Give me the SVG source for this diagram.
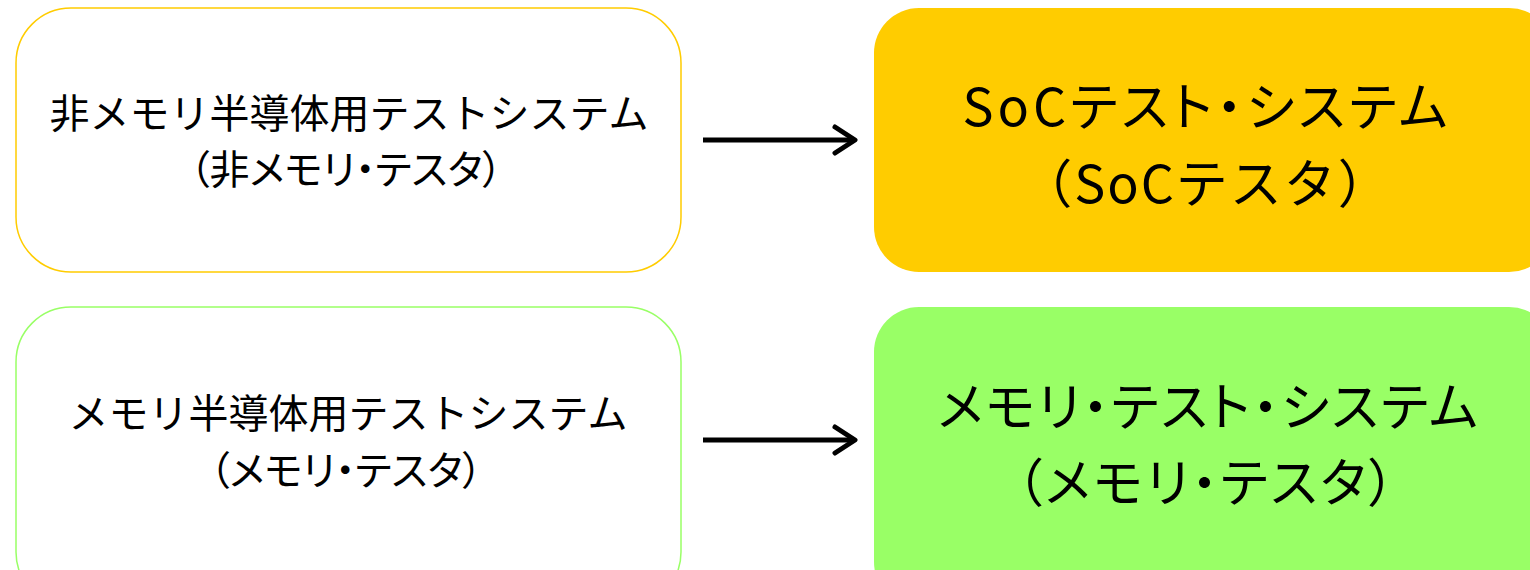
<svg xmlns="http://www.w3.org/2000/svg" width="1530" height="570" viewBox="0 0 1530 570">
<defs>
<style>
.t{font-family:"Noto Sans CJK JP","Noto Sans",sans-serif;fill:#000;text-anchor:middle}
.s{font-size:40px}
.l{font-size:52px}
.p{font-feature-settings:"palt" 1}
.conn{stroke:#000;stroke-width:5;fill:none}
.head{stroke:#000;stroke-width:5;fill:none;stroke-linecap:round;stroke-linejoin:round}
</style>
</defs>
<rect width="1530" height="570" fill="#fff"/>
<g id="node-nonmem">
<rect x="16" y="8" width="665" height="264" rx="55" ry="55" fill="#fff" stroke="#FFCC00" stroke-width="1.5"/>
<text class="t s" x="349" y="128">非メモリ半導体用テストシステム</text>
<text class="t s p" x="346" y="184">（非メモリ・テスタ）</text>
</g>
<g id="node-soc">
<rect x="874" y="8" width="680" height="264" rx="45" ry="45" fill="#FFCC00"/>
<text class="t l p" x="1207" y="126" letter-spacing="4">SoCテスト・システム</text>
<text class="t l" x="1206" y="203" letter-spacing="2">（SoCテスタ）</text>
</g>
<g id="node-mem">
<rect x="16" y="307" width="665" height="300" rx="55" ry="55" fill="#fff" stroke="#99FF66" stroke-width="1.5"/>
<text class="t s" x="348" y="428">メモリ半導体用テストシステム</text>
<text class="t s p" x="346" y="485">（メモリ・テスタ）</text>
</g>
<g id="node-memtest">
<rect x="874" y="307" width="680" height="300" rx="45" ry="45" fill="#99FF66"/>
<text class="t l p" x="1209" y="426" letter-spacing="2.5">メモリ・テスト・システム</text>
<text class="t l p" x="1207" y="502" letter-spacing="3">（メモリ・テスタ）</text>
</g>
<g id="connectors">
<line class="conn" x1="703" y1="140" x2="853" y2="140"/>
<polyline class="head" points="835,127 855,140 835,153"/>
<line class="conn" x1="703" y1="440" x2="853" y2="440"/>
<polyline class="head" points="835,427 855,440 835,453"/>
</g>
</svg>
